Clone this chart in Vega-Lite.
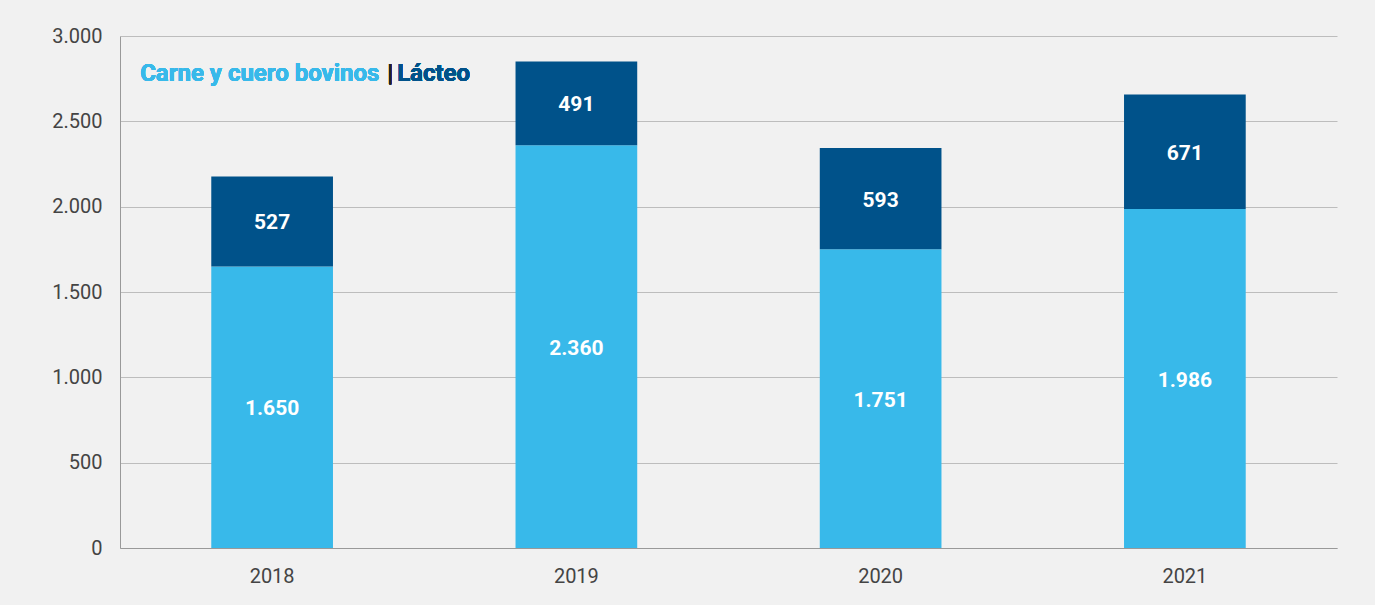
{
  "$schema": "https://vega.github.io/schema/vega-lite/v6.json",
  "width": 1217,
  "height": 512,
  "autosize": "none",
  "padding": {"left": 120, "top": 36, "right": 38, "bottom": 57},
  "background": "#f1f1f1",
  "config": {
    "locale": {"number": {"decimal": ",", "thousands": ".", "grouping": [3], "currency": ["", ""]}},
    "font": "Roboto",
    "view": {"stroke": null},
    "axis": {"labelFont": "Roboto", "labelFontSize": 20, "labelColor": "#444444", "ticks": false, "domainColor": "#999999", "title": null}
  },
  "data": {
    "values": [
      {"year": "2018", "serie": "Carne y cuero bovinos", "valor": 1650, "orden": 1},
      {"year": "2018", "serie": "Lácteo", "valor": 527, "orden": 2},
      {"year": "2019", "serie": "Carne y cuero bovinos", "valor": 2360, "orden": 1},
      {"year": "2019", "serie": "Lácteo", "valor": 491, "orden": 2},
      {"year": "2020", "serie": "Carne y cuero bovinos", "valor": 1751, "orden": 1},
      {"year": "2020", "serie": "Lácteo", "valor": 593, "orden": 2},
      {"year": "2021", "serie": "Carne y cuero bovinos", "valor": 1986, "orden": 1},
      {"year": "2021", "serie": "Lácteo", "valor": 671, "orden": 2}
    ]
  },
  "layer": [
    {
      "mark": {"type": "bar"},
      "encoding": {
        "x": {"field": "year", "type": "nominal", "scale": {"paddingInner": 0.6, "paddingOuter": 0.3}, "axis": {"labelAngle": 0, "labelPadding": 18, "grid": false}},
        "y": {"field": "valor", "type": "quantitative", "stack": "zero", "scale": {"domain": [0, 3000], "nice": false}, "axis": {"values": [0, 500, 1000, 1500, 2000, 2500, 3000], "format": ",d", "labelPadding": 18, "grid": true, "gridColor": "#bdbdbd"}},
        "color": {"field": "serie", "type": "nominal", "scale": {"domain": ["Carne y cuero bovinos", "Lácteo"], "range": ["#38b9ea", "#00528a"]}, "legend": null},
        "order": {"field": "orden"}
      }
    },
    {
      "mark": {"type": "text", "color": "white", "fontWeight": "bold", "fontSize": 21, "baseline": "middle", "dy": 2},
      "encoding": {
        "x": {"field": "year", "type": "nominal"},
        "y": {"field": "valor", "type": "quantitative", "stack": "zero", "bandPosition": 0.5},
        "detail": {"field": "serie"},
        "text": {"field": "valor", "type": "quantitative", "format": ",d"},
        "order": {"field": "orden"}
      }
    },
    {
      "mark": {"type": "text", "text": "Carne y cuero bovinos", "align": "left", "baseline": "middle", "fontSize": 24, "fontWeight": "bold", "color": "#38b9ea", "dx": -132},
      "encoding": {"x": {"datum": "2018"}, "y": {"datum": 2780}}
    },
    {
      "mark": {"type": "text", "text": "|", "align": "left", "baseline": "middle", "fontSize": 24, "fontWeight": "bold", "color": "#222222", "dx": 115},
      "encoding": {"x": {"datum": "2018"}, "y": {"datum": 2780}}
    },
    {
      "mark": {"type": "text", "text": "Lácteo", "align": "left", "baseline": "middle", "fontSize": 24, "fontWeight": "bold", "color": "#00528a", "dx": 125},
      "encoding": {"x": {"datum": "2018"}, "y": {"datum": 2780}}
    }
  ]
}
